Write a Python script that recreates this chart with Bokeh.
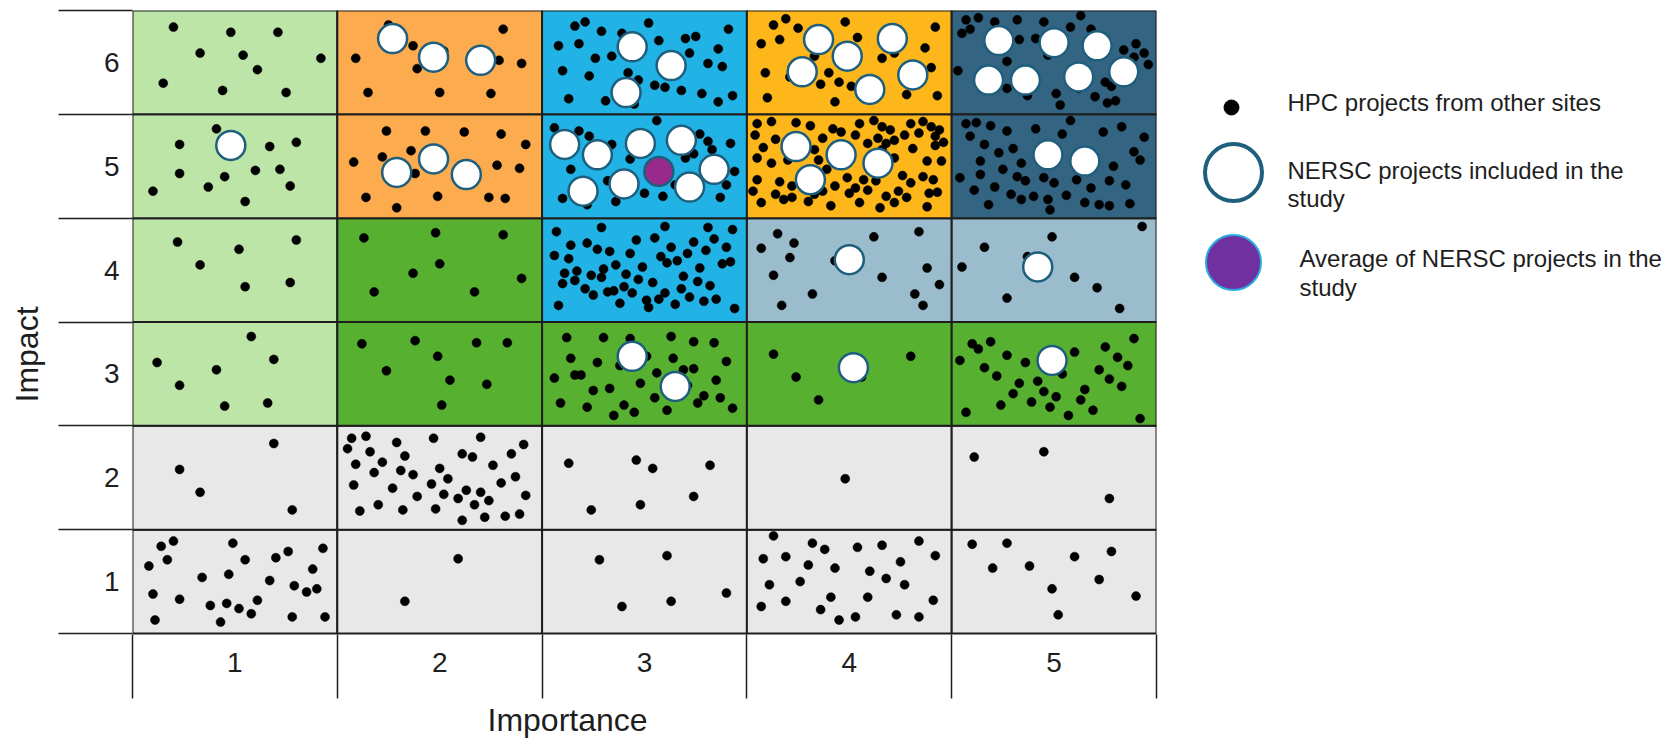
from bokeh.plotting import figure
from bokeh.layouts import row
from bokeh.models import Range1d, FixedTicker, Title
from bokeh.embed import file_html
from bokeh.resources import INLINE
from bokeh.core.properties import value

# ---------------- data ----------------
IMPORTANCE_LEVELS = [1, 2, 3, 4, 5]
IMPACT_LEVELS = [1, 2, 3, 4, 5, 6]
X_TICK_LABELS = {1: "1", 2: "2", 3: "3", 4: "4", 5: "5"}
Y_TICK_LABELS = {1: "1", 2: "2", 3: "3", 4: "4", 5: "5", 6: "6"}
X_TITLE = "Importance"
Y_TITLE = "Impact"

# cell colour class per impact row (left -> right importance 1..5)
ROW6_CLASS = ["lightgreen", "orange", "sky", "amber", "navy"]
ROW5_CLASS = ["lightgreen", "orange", "sky", "amber", "navy"]
ROW4_CLASS = ["lightgreen", "green", "sky", "steel", "steel"]
ROW3_CLASS = ["lightgreen", "green", "green", "green", "green"]
ROW2_CLASS = ["grey", "grey", "grey", "grey", "grey"]
ROW1_CLASS = ["grey", "grey", "grey", "grey", "grey"]

# HPC projects from other sites (importance, impact), grouped by impact row
HPC_ROW6 = [
    (0.70, 6.34), (0.98, 6.29), (1.21, 6.29), (0.83, 6.09), (1.04, 6.07), (1.42, 6.04), (1.11, 5.93),
    (0.65, 5.80), (0.94, 5.73), (1.25, 5.71),
    (1.75, 6.36), (2.31, 6.32), (1.87, 6.16), (2.02, 6.11), (1.59, 6.04), (2.29, 6.02), (2.40, 5.99),
    (1.89, 5.94), (1.65, 5.71), (2.00, 5.71), (2.25, 5.70),
    (2.66, 6.35), (2.71, 6.39), (2.79, 6.30), (3.02, 6.38), (2.89, 6.28), (3.41, 6.32), (2.58, 6.16),
    (2.68, 6.18), (3.07, 6.21), (3.20, 6.23), (3.25, 6.25), (3.36, 6.13), (2.76, 6.04), (2.84, 6.06),
    (3.22, 6.09), (3.31, 5.99), (3.38, 5.96), (2.60, 5.92), (2.73, 5.87), (2.92, 5.90), (2.97, 5.83),
    (3.05, 5.78), (3.10, 5.76), (3.18, 5.73), (3.28, 5.70), (2.63, 5.65), (2.81, 5.63), (2.95, 5.60),
    (3.36, 5.62), (3.43, 5.68),
    (3.63, 6.36), (3.69, 6.42), (3.75, 6.33), (3.98, 6.39), (4.42, 6.34), (3.57, 6.18), (3.66, 6.22),
    (4.04, 6.24), (4.16, 6.04), (4.22, 6.09), (4.37, 6.14), (3.83, 6.06), (3.59, 5.90), (3.71, 5.86),
    (3.90, 5.90), (3.86, 5.79), (3.95, 5.81), (4.01, 5.77), (4.40, 5.95), (3.60, 5.66), (3.93, 5.62),
    (4.28, 5.69), (4.43, 5.68),
    (4.57, 6.41), (4.63, 6.43), (4.71, 6.39), (4.82, 6.41), (4.95, 6.39), (5.13, 6.45), (5.08, 6.34),
    (4.59, 6.32), (4.55, 6.28), (4.83, 6.22), (5.18, 6.32), (5.34, 6.12), (5.40, 6.18), (5.44, 6.09),
    (5.39, 6.05), (5.46, 5.98), (4.53, 5.92), (4.77, 6.01), (4.91, 6.23), (4.97, 6.07), (5.25, 5.81),
    (5.28, 5.77), (5.20, 5.67), (5.26, 5.61), (5.30, 5.63), (5.01, 5.70), (5.03, 5.59), (4.87, 5.68),
    (4.77, 5.75), (5.12, 5.75),
]
HPC_ROW5 = [
    (0.91, 5.36), (0.73, 5.21), (1.17, 5.19), (1.30, 5.23), (0.73, 4.93), (0.95, 4.90), (1.10, 4.96),
    (1.22, 4.97), (0.87, 4.80), (1.27, 4.81), (0.60, 4.76), (1.05, 4.66),
    (1.74, 5.34), (1.93, 5.34), (2.12, 5.33), (2.30, 5.31), (2.42, 5.21), (1.86, 5.15), (1.72, 5.09),
    (1.58, 5.04), (1.88, 4.93), (2.28, 5.01), (2.39, 4.98), (1.64, 4.70), (1.99, 4.71), (2.24, 4.70),
    (2.32, 4.69), (1.79, 4.60),
    (2.56, 5.37), (2.68, 5.34), (2.73, 5.29), (3.06, 5.44), (2.84, 5.21), (3.27, 5.31), (3.31, 5.24),
    (3.42, 5.22), (3.33, 5.16), (3.24, 5.12), (3.20, 5.08), (2.93, 5.07), (2.64, 4.97), (3.44, 4.95),
    (2.60, 4.69), (2.82, 4.86), (2.86, 4.66), (3.00, 4.74), (3.09, 4.71), (3.15, 4.82), (3.37, 4.70),
    (3.40, 4.82), (2.72, 4.63),
    (3.55, 5.41), (3.62, 5.43), (3.74, 5.42), (3.81, 5.39), (3.92, 5.36), (3.96, 5.33), (4.05, 5.41),
    (4.12, 5.44), (4.16, 5.38), (4.20, 5.35), (4.30, 5.41), (4.36, 5.43), (4.40, 5.38), (4.44, 5.35),
    (3.54, 5.30), (3.64, 5.26), (3.87, 5.27), (4.03, 5.30), (4.09, 5.22), (4.14, 5.27), (4.18, 5.22),
    (4.22, 5.25), (4.27, 5.30), (4.34, 5.32), (4.42, 5.29), (4.46, 5.23), (3.58, 5.18), (3.83, 5.16),
    (4.16, 5.16), (4.31, 5.17), (4.42, 5.20), (3.55, 5.08), (3.62, 5.03), (3.70, 5.06), (3.85, 5.06),
    (4.22, 5.08), (4.38, 5.05), (4.45, 5.05), (3.55, 4.87), (3.66, 4.85), (3.72, 4.81), (3.89, 4.97),
    (3.93, 4.81), (3.99, 4.89), (4.03, 4.79), (4.07, 4.87), (4.13, 4.86), (4.26, 4.91), (4.30, 4.84),
    (4.36, 4.90), (4.41, 4.87), (3.53, 4.76), (3.64, 4.73), (3.72, 4.70), (3.83, 4.73), (3.87, 4.76),
    (4.00, 4.74), (4.09, 4.77), (4.18, 4.71), (4.24, 4.76), (4.39, 4.74), (4.43, 4.75), (3.57, 4.65),
    (3.68, 4.68), (3.80, 4.66), (3.91, 4.62), (4.05, 4.65), (4.15, 4.60), (4.22, 4.65), (4.28, 4.70),
    (4.38, 4.61),
    (4.57, 5.41), (4.62, 5.42), (4.69, 5.39), (4.77, 5.34), (4.59, 5.29), (4.91, 5.36), (5.04, 5.31),
    (5.08, 5.44), (5.24, 5.33), (5.33, 5.38), (5.44, 5.28), (4.66, 5.21), (4.73, 5.13), (4.80, 5.17),
    (5.39, 5.14), (4.64, 5.05), (4.75, 4.97), (4.84, 5.03), (5.29, 5.00), (5.42, 5.06), (4.54, 4.89),
    (4.64, 4.92), (4.71, 4.80), (4.82, 4.90), (4.86, 4.86), (4.95, 4.89), (5.00, 4.84), (5.11, 4.87),
    (5.18, 4.79), (5.27, 4.86), (5.35, 4.82), (4.61, 4.77), (4.79, 4.73), (4.84, 4.68), (4.90, 4.71),
    (4.97, 4.68), (5.06, 4.72), (5.15, 4.65), (5.22, 4.63), (5.27, 4.62), (5.37, 4.64), (4.68, 4.63),
    (4.98, 4.58),
]
HPC_ROW4 = [
    (0.72, 4.27), (1.30, 4.29), (1.02, 4.20), (0.83, 4.05), (1.05, 3.84), (1.27, 3.88),
    (1.63, 4.31), (1.98, 4.36), (2.31, 4.34), (2.00, 4.06), (1.87, 3.97), (2.40, 3.92), (1.68, 3.79),
    (2.17, 3.79),
    (2.57, 4.37), (2.79, 4.41), (3.10, 4.42), (3.31, 4.41), (3.43, 4.39), (2.64, 4.24), (2.72, 4.26),
    (2.77, 4.20), (2.83, 4.18), (2.93, 4.16), (2.96, 4.29), (3.05, 4.31), (3.13, 4.22), (3.21, 4.16),
    (3.24, 4.27), (3.30, 4.19), (3.34, 4.30), (3.40, 4.22), (2.56, 4.14), (2.63, 4.11), (3.08, 4.13),
    (3.11, 4.07), (3.16, 4.09), (3.38, 4.06), (3.42, 4.08), (2.61, 3.97), (2.67, 3.99), (2.74, 3.95),
    (2.79, 3.93), (2.80, 4.01), (2.86, 4.05), (2.91, 3.96), (2.99, 4.03), (2.97, 3.91), (3.04, 3.88),
    (3.19, 3.94), (3.27, 4.02), (3.26, 3.89), (3.32, 3.85), (2.60, 3.87), (2.66, 3.90), (2.71, 3.82),
    (2.75, 3.76), (2.82, 3.79), (2.85, 3.80), (2.90, 3.84), (2.94, 3.78), (3.01, 3.71), (3.02, 3.64),
    (3.07, 3.72), (3.10, 3.78), (3.18, 3.82), (3.22, 3.74), (3.29, 3.70), (3.35, 3.72), (2.58, 3.66),
    (2.88, 3.68), (3.15, 3.67), (3.44, 3.63),
    (3.65, 4.35), (3.73, 4.26), (3.57, 4.21), (3.71, 4.12), (3.93, 4.09), (4.12, 4.32), (4.34, 4.37),
    (4.38, 4.02), (4.16, 3.93), (3.63, 3.95), (3.82, 3.77), (4.32, 3.77), (4.44, 3.86), (3.67, 3.66),
    (4.36, 3.66),
    (4.66, 4.22), (4.99, 4.32), (5.43, 4.42), (4.55, 4.03), (4.87, 4.13), (5.10, 3.93), (5.21, 3.83),
    (4.77, 3.73), (5.32, 3.63),
]
HPC_ROW3 = [
    (1.08, 3.36), (0.62, 3.11), (1.19, 3.14), (0.91, 3.04), (0.73, 2.89), (0.95, 2.69), (1.16, 2.72),
    (1.62, 3.29), (1.88, 3.32), (2.18, 3.30), (2.33, 3.30), (1.99, 3.17), (1.74, 3.03), (2.05, 2.94),
    (2.23, 2.90), (2.01, 2.70),
    (2.62, 3.35), (2.80, 3.35), (2.93, 3.34), (3.13, 3.36), (3.24, 3.31), (3.34, 3.30), (2.64, 3.15),
    (2.77, 3.11), (2.88, 3.08), (3.01, 3.17), (3.14, 3.15), (3.40, 3.12), (2.56, 2.96), (2.66, 2.99),
    (2.69, 2.99), (2.75, 2.84), (2.83, 2.86), (2.98, 2.91), (3.06, 3.01), (3.19, 3.04), (3.24, 3.05),
    (3.35, 2.94), (2.59, 2.72), (2.72, 2.68), (2.85, 2.60), (2.90, 2.70), (2.95, 2.63), (3.05, 2.77),
    (3.11, 2.65), (3.26, 2.72), (3.29, 2.79), (3.37, 2.77), (3.43, 2.67), (3.21, 2.89),
    (3.63, 3.19), (3.74, 2.97), (3.85, 2.75), (4.30, 3.17), (4.06, 2.97),
    (4.60, 3.29), (4.63, 3.24), (4.69, 3.31), (4.54, 3.13), (4.77, 3.18), (4.86, 3.11), (4.66, 3.06),
    (4.72, 2.98), (4.83, 2.91), (4.92, 2.93), (4.95, 2.83), (4.80, 2.81), (4.74, 2.70), (4.57, 2.63),
    (4.89, 2.73), (4.98, 2.68), (5.01, 2.78), (5.07, 2.60), (5.04, 3.00), (5.10, 3.21), (5.15, 2.85),
    (5.13, 2.75), (5.19, 2.65), (5.22, 3.04), (5.25, 3.26), (5.27, 2.95), (5.31, 3.16), (5.33, 2.88),
    (5.36, 3.08), (5.39, 3.34), (5.42, 2.57),
]
HPC_ROW2 = [
    (1.19, 2.33), (0.73, 2.08), (0.83, 1.86), (1.28, 1.69),
    (1.57, 2.38), (1.64, 2.40), (1.79, 2.34), (1.97, 2.38), (2.20, 2.39), (1.55, 2.28), (1.66, 2.25),
    (1.83, 2.21), (2.11, 2.23), (2.16, 2.20), (2.35, 2.23), (2.41, 2.32), (1.59, 2.13), (1.72, 2.15),
    (1.81, 2.07), (2.00, 2.09), (2.26, 2.12), (1.68, 2.05), (1.87, 2.03), (2.04, 1.99), (1.58, 1.93),
    (1.77, 1.90), (1.96, 1.94), (2.30, 1.95), (2.37, 2.01), (1.89, 1.82), (2.02, 1.84), (2.09, 1.80),
    (2.13, 1.88), (2.20, 1.86), (2.24, 1.78), (2.42, 1.83), (2.17, 1.74), (1.61, 1.68), (1.70, 1.74),
    (1.82, 1.69), (1.98, 1.70), (2.11, 1.59), (2.22, 1.62), (2.32, 1.63), (2.39, 1.65),
    (2.63, 2.14), (2.96, 2.17), (3.04, 2.09), (3.32, 2.12), (2.74, 1.69), (2.98, 1.74), (3.24, 1.82),
    (3.98, 1.99),
    (4.61, 2.20), (4.95, 2.25), (5.27, 1.80),
]
HPC_ROW1 = [
    (0.64, 1.34), (0.70, 1.39), (0.67, 1.21), (0.58, 1.15), (0.99, 1.37), (1.05, 1.21), (1.20, 1.23),
    (1.26, 1.29), (1.43, 1.32), (0.84, 1.04), (0.97, 1.07), (1.17, 1.01), (1.38, 1.12), (0.60, 0.88),
    (0.73, 0.83), (0.88, 0.77), (0.96, 0.79), (1.02, 0.74), (1.11, 0.82), (1.08, 0.69), (1.29, 0.96),
    (1.35, 0.90), (1.40, 0.93), (0.61, 0.63), (0.93, 0.61), (1.28, 0.66), (1.44, 0.66),
    (2.09, 1.22), (1.83, 0.81),
    (2.78, 1.21), (3.11, 1.25), (3.40, 0.89), (2.89, 0.76), (3.13, 0.81),
    (3.63, 1.44), (3.82, 1.37), (3.88, 1.31), (4.04, 1.33), (4.16, 1.35), (4.34, 1.39), (3.58, 1.22),
    (3.69, 1.24), (3.80, 1.16), (3.93, 1.13), (4.10, 1.10), (4.25, 1.19), (4.42, 1.25), (3.61, 0.97),
    (3.76, 1.00), (4.18, 1.03), (4.27, 0.97), (3.57, 0.76), (3.69, 0.81), (3.91, 0.85), (4.09, 0.85),
    (4.41, 0.82), (3.86, 0.73), (3.95, 0.63), (4.03, 0.66), (4.23, 0.68), (4.34, 0.66),
    (4.60, 1.36), (4.77, 1.37), (4.70, 1.13), (4.88, 1.15), (5.10, 1.24), (5.28, 1.29), (4.99, 0.93),
    (5.22, 1.02), (5.02, 0.68), (5.40, 0.86),
]

# NERSC projects included in the study (importance, impact)
NERSC_PROJECTS = [
    (0.98, 5.20),
    (1.77, 6.23), (1.97, 6.05), (2.20, 6.02),
    (1.79, 4.94), (1.97, 5.07), (2.13, 4.92),
    (2.94, 6.15), (3.13, 5.97), (2.91, 5.71),
    (3.85, 6.22), (4.21, 6.23), (3.99, 6.06), (3.77, 5.91), (4.31, 5.88), (4.10, 5.74),
    (4.73, 6.21), (5.00, 6.19), (5.21, 6.16), (4.68, 5.83), (4.86, 5.83), (5.12, 5.86), (5.34, 5.91),
    (2.61, 5.21), (2.77, 5.11), (2.98, 5.22), (3.18, 5.25), (3.34, 4.97), (2.70, 4.76), (2.90, 4.83),
    (3.22, 4.80),
    (3.74, 5.19), (3.96, 5.11), (4.14, 5.03), (3.81, 4.87),
    (4.97, 5.11), (5.15, 5.05),
    (4.00, 4.10), (4.92, 4.03),
    (2.94, 3.17), (3.15, 2.88),
    (4.02, 3.06), (4.99, 3.13),
]
# Average of NERSC projects in the study
NERSC_AVERAGE = [(3.07, 4.95)]

LEGEND_LABELS = [
    ["HPC projects from other sites"],
    ["NERSC projects included in the", "study"],
    ["Average of NERSC projects in the", "study"],
]

# ---------------- styles / layout ----------------
COLORS = {
    "lightgreen": "#bde5a8",
    "orange": "#fdab4f",
    "sky": "#22b3e6",
    "amber": "#fdb71a",
    "navy": "#336482",
    "green": "#58b031",
    "steel": "#9bbccd",
    "grey": "#e8e8e8",
}
INK = "#1e1e1e"
RING = "#1f5f7e"
FONT = "Liberation Sans"
ROW_CLASSES = {6: ROW6_CLASS, 5: ROW5_CLASS, 4: ROW4_CLASS, 3: ROW3_CLASS, 2: ROW2_CLASS, 1: ROW1_CLASS}

H = 738
MAIN_W = 1168
LEG_W = 506
B_LEFT, B_RIGHT, B_TOP, B_BOTTOM = 132, 12, 10, 40
GRID_PX = 623                      # height of the six rows
ROW_PX = GRID_PX / len(IMPACT_LEVELS)
FRAME_H = H - B_TOP - B_BOTTOM     # frame also holds the strip under the grid
X_TICK_LEN, Y_TICK_LEN = 64, 74
y_start = IMPACT_LEVELS[0] - 0.5 - (FRAME_H - GRID_PX) / ROW_PX

p = figure(width=MAIN_W, height=H,
           x_range=Range1d(0.5, 5.5), y_range=Range1d(y_start, 6.5),
           output_backend="svg", toolbar_location=None,
           min_border_left=B_LEFT, min_border_right=B_RIGHT,
           min_border_top=B_TOP, min_border_bottom=B_BOTTOM)
p.outline_line_color = None
p.grid.visible = False

# cells
lefts, rights, bottoms, tops, fills = [], [], [], [], []
for imp in IMPACT_LEVELS:
    for i, imp_x in enumerate(IMPORTANCE_LEVELS):
        lefts.append(imp_x - 0.5); rights.append(imp_x + 0.5)
        bottoms.append(imp - 0.5); tops.append(imp + 0.5)
        fills.append(COLORS[ROW_CLASSES[imp][i]])
p.quad(left=lefts, right=rights, bottom=bottoms, top=tops, fill_color=fills,
       line_color=INK, line_width=2)

# HPC dots
hpc = HPC_ROW6 + HPC_ROW5 + HPC_ROW4 + HPC_ROW3 + HPC_ROW2 + HPC_ROW1
p.scatter([a for a, b in hpc], [b for a, b in hpc], marker="circle", size=9,
          fill_color="black", line_color="black", line_width=0.5)

# NERSC projects
p.scatter([a for a, b in NERSC_PROJECTS], [b for a, b in NERSC_PROJECTS], marker="circle", size=29,
          fill_color="white", line_color=RING, line_width=2.5)
p.scatter([a for a, b in NERSC_AVERAGE], [b for a, b in NERSC_AVERAGE], marker="circle", size=29,
          fill_color="#982a8c", line_color=RING, line_width=2.5)

# x axis (at the bottom of the strip under the grid): boundary lines go up to the grid
xaxis = p.xaxis[0]
xaxis.ticker = FixedTicker(ticks=IMPORTANCE_LEVELS,
                           minor_ticks=[v - 0.5 for v in IMPORTANCE_LEVELS] + [IMPORTANCE_LEVELS[-1] + 0.5])
xaxis.major_label_overrides = X_TICK_LABELS
xaxis.minor_tick_in = X_TICK_LEN
xaxis.minor_tick_out = 0
xaxis.major_label_standoff = -46

# y axis: boundary lines stick out to the left, labels at the row centres
yaxis = p.yaxis[0]
yaxis.ticker = FixedTicker(ticks=IMPACT_LEVELS,
                           minor_ticks=[v - 0.5 for v in IMPACT_LEVELS] + [IMPACT_LEVELS[-1] + 0.5])
yaxis.major_label_overrides = Y_TICK_LABELS
yaxis.minor_tick_in = 0
yaxis.minor_tick_out = Y_TICK_LEN
yaxis.major_label_standoff = 13 - Y_TICK_LEN
yaxis.axis_label = Y_TITLE
yaxis.axis_label_standoff = 56
yaxis.axis_label_text_font = FONT
yaxis.axis_label_text_font_size = "32px"
yaxis.axis_label_text_font_style = "normal"
yaxis.axis_label_text_color = INK

for ax in (xaxis, yaxis):
    ax.axis_line_color = None
    ax.major_tick_line_color = None
    ax.major_tick_out = 0
    ax.major_tick_in = 0
    ax.minor_tick_line_color = INK
    ax.minor_tick_line_width = 1.5
    ax.major_label_text_font = FONT
    ax.major_label_text_font_size = "28px"
    ax.major_label_text_color = INK

# x axis title, placed left of centre as in the original slide
p.add_layout(Title(text=X_TITLE, align="left", offset=355, standoff=2, vertical_align="bottom",
                   text_font=FONT, text_font_size="32px", text_font_style="normal",
                   text_color=INK), "below")

# legend panel: its frame is aligned with the main frame (rows align plot frames);
# ranges chosen so that one unit is one pixel, y downward
leg = figure(width=LEG_W, height=H,
             x_range=Range1d(MAIN_W, MAIN_W + LEG_W), y_range=Range1d(H - B_BOTTOM, B_TOP),
             output_backend="svg", toolbar_location=None,
             min_border_left=0, min_border_right=0, min_border_top=B_TOP, min_border_bottom=B_BOTTOM)
leg.axis.visible = False
leg.grid.visible = False
leg.outline_line_color = None
leg.scatter([1231], [107], marker="circle", size=15, fill_color="black", line_color="black")
leg.scatter([1233], [172], marker="circle", size=57, fill_color="white", line_color=RING, line_width=4)
leg.scatter([1233], [262], marker="circle", size=55, fill_color="#7030a0", line_color="#29abe2",
            line_width=2)
leg_x = [1287, 1287, 1287, 1299, 1299]
leg_y = [102, 170, 198, 258, 287]
leg_t = LEGEND_LABELS[0] + LEGEND_LABELS[1] + LEGEND_LABELS[2]
leg.text(leg_x, leg_y, text=leg_t, text_font=value(FONT), text_font_size="24px",
         text_baseline="middle", text_align="left", text_color=INK)

layout = row(p, leg)
open("out.html", "w").write(file_html(layout, INLINE))
